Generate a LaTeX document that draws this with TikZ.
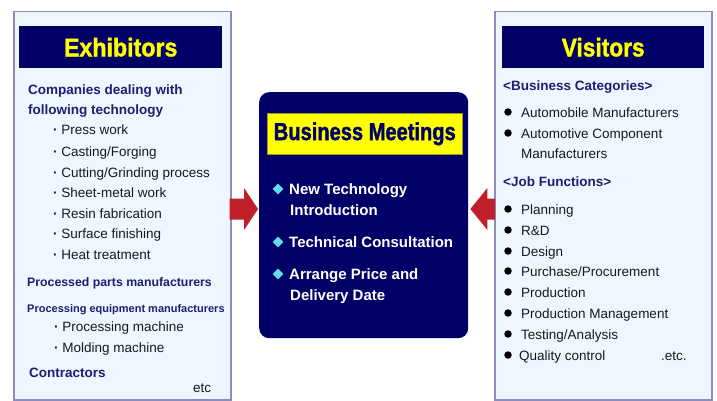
\documentclass[tikz,border=0pt]{standalone}
\usepackage{fontspec}
\usepackage{graphicx}
\setmainfont{Liberation Sans}
\newfontfamily\heavyfont{Liberation Sans}[UprightFont=* Bold, FakeBold=1.6]
\usetikzlibrary{calc,shapes.geometric}
\definecolor{navy}{RGB}{0,0,102}
\definecolor{panelbg}{RGB}{238,246,255}
\definecolor{panelline}{RGB}{140,140,192}
\definecolor{headblue}{RGB}{30,30,110}
\definecolor{itemblk}{RGB}{25,25,25}
\definecolor{arrowred}{RGB}{192,30,40}
\definecolor{diacyan}{RGB}{100,220,240}
\definecolor{ttlyellow}{RGB}{255,255,0}
\newcommand\myfs[1]{\fontsize{#1}{#1}\selectfont}
\newcommand\mydot{\textbf{·}}
\begin{document}
\begin{tikzpicture}[x=1pt,y=-1pt,
  panel/.style={draw=panelline, line width=1.5pt, fill=panelbg, inner sep=0pt, anchor=north west},
  hdrbox/.style={fill=navy, inner sep=0pt, anchor=north west},
  ttl/.style={text=ttlyellow, font=\heavyfont\myfs{25.5}, inner sep=0pt},
  hd/.style={text=headblue, font=\bfseries\myfs{13.5}, anchor=mid west, inner sep=0pt, yshift=-3pt},
  hdsmall/.style={text=headblue, font=\bfseries\myfs{11}, anchor=mid west, inner sep=0pt, yshift=-3pt},
  itm/.style={text=itemblk, font=\myfs{13.5}, anchor=mid west, inner sep=0pt, yshift=-3pt},
  cit/.style={text=white, font=\bfseries\myfs{15}, anchor=mid west, inner sep=0pt, yshift=-3pt},
  dia/.style={diamond, aspect=1, fill=diacyan, minimum size=11pt, inner sep=0pt},
  dot/.style={circle, fill=black, minimum size=7.5pt, inner sep=0pt},
  blockarrow/.style={fill=arrowred}
]
\useasboundingbox[fill=white] (0,0) rectangle (717,401);

% ---------- Left panel: Exhibitors ----------
\node[panel, minimum width=217pt, minimum height=388pt] (ex) at (13,11) {};
\node[hdrbox, minimum width=203pt, minimum height=42pt] (exh) at (19,26) {};
\node[ttl] (ext) at (exh.center) {\scalebox{0.91}[1]{Exhibitors}};

\node[hd] (e1) at (28,89) {Companies dealing with};
\node[hd] (e2) at (28,109) {following technology};
\node[itm] (e3) at (53,129) {\mydot\ Press work};
\node[itm] (e4) at (53,151) {\mydot\ Casting/Forging};
\node[itm] (e5) at (53,172) {\mydot\ Cutting/Grinding process};
\node[itm] (e6) at (53,192) {\mydot\ Sheet-metal work};
\node[itm] (e7) at (53,213) {\mydot\ Resin fabrication};
\node[itm] (e8) at (53,233) {\mydot\ Surface finishing};
\node[itm] (e9) at (53,254) {\mydot\ Heat treatment};
\node[hd, font=\bfseries\myfs{12.3}] (e10) at (27,281) {Processed parts manufacturers};
\node[hdsmall] (e11) at (27,307) {Processing equipment manufacturers};
\node[itm] (e12) at (54,326) {\mydot\ Processing machine};
\node[itm] (e13) at (54,347) {\mydot\ Molding machine};
\node[hd] (e14) at (29,372) {Contractors};
\node[itm] (e15) at (193,387) {etc};

% ---------- Right panel: Visitors ----------
\node[panel, minimum width=217pt, minimum height=388pt] (vi) at (494,11) {};
\node[hdrbox, minimum width=202pt, minimum height=42pt] (vih) at (502,26) {};
\node[ttl] (vit) at (vih.center) {\scalebox{0.89}[1]{Visitors}};

\node[hd] (v1) at (503,85) {<Business Categories>};
\node[dot] (vd1) at (508,112) {};
\node[itm] (v2) at (521,112) {Automobile Manufacturers};
\node[dot] (vd2) at (508,133) {};
\node[itm] (v3) at (521,133) {Automotive Component};
\node[itm] (v4) at (521,153) {Manufacturers};
\node[hd] (v5) at (503,181) {<Job Functions>};
\foreach \yy/\txt [count=\i] in {209/{Planning},230/{R\&D},251/{Design},271/{Purchase/Procurement},292/{Production},313/{Production Management},334/{Testing/Analysis}}{
  \node[dot] (jd\i) at (508,\yy) {};
  \node[itm] (j\i) at (521,\yy) {\txt};
}
\node[dot] (jd8) at (508,355) {};
\node[itm] (j8) at (519,355) {Quality control};
\node[itm] (j9) at (661,355) {.etc.};

% ---------- Center box: Business Meetings ----------
\node[fill=navy, rounded corners=10pt, minimum width=209pt, minimum height=246pt, inner sep=0pt, anchor=north west] (cb) at (259,92) {};
\node[fill=ttlyellow, draw=navy!40!ttlyellow, line width=0.6pt, minimum width=195pt, minimum height=41pt, inner sep=0pt, anchor=north west] (cbh) at (267,113) {};
\node[text=navy, font=\heavyfont\myfs{24.5}, inner sep=0pt] (cbt) at (cbh.center) {\scalebox{0.82}[1]{Business Meetings}};

\node[dia] (cd1) at (278,189) {};
\node[cit] (c1) at (289,189) {New Technology};
\node[cit] (c2) at (290,210) {Introduction};
\node[dia] (cd2) at (278,242) {};
\node[cit] (c3) at (289,242) {Technical Consultation};
\node[dia] (cd3) at (278,274) {};
\node[cit] (c4) at (289,274) {Arrange Price and};
\node[cit] (c5) at (290,295) {Delivery Date};

% ---------- Block arrows ----------
\coordinate (ltip) at ($(cb.west |- 0,209)+(-1,0)$);
\coordinate (ltail) at ($(ex.east |- ltip)+(-2,0)$);
\fill[blockarrow] ($(ltail)+(0,-10.5)$) -- ($(ltip)+(-14,-10.5)$) -- ($(ltip)+(-14,-21)$) -- (ltip)
  -- ($(ltip)+(-14,21)$) -- ($(ltip)+(-14,10.5)$) -- ($(ltail)+(0,10.5)$) -- cycle;

\coordinate (rtip) at ($(cb.east |- 0,209)+(2,0)$);
\coordinate (rtail) at ($(vi.west |- rtip)+(1,0)$);
\fill[blockarrow] ($(rtail)+(0,-10.5)$) -- ($(rtip)+(17,-10.5)$) -- ($(rtip)+(17,-21)$) -- (rtip)
  -- ($(rtip)+(17,21)$) -- ($(rtip)+(17,10.5)$) -- ($(rtail)+(0,10.5)$) -- cycle;
\end{tikzpicture}
\end{document}
